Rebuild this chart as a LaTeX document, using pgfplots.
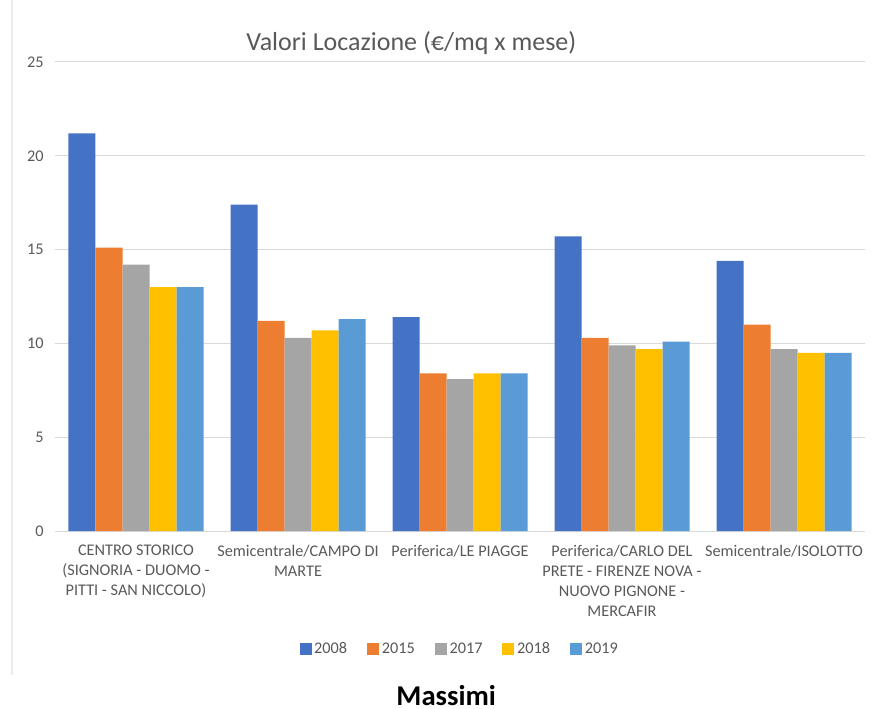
\documentclass[border=0pt]{standalone}
\usepackage{fontspec}
\setmainfont{Carlito}
\usepackage{pgfplots}
\pgfplotsset{compat=1.18}
\definecolor{c08}{HTML}{4472C4}
\definecolor{c15}{HTML}{ED7D31}
\definecolor{c17}{HTML}{A5A5A5}
\definecolor{c18}{HTML}{FFC000}
\definecolor{c19}{HTML}{5B9BD5}
\definecolor{txt}{HTML}{595959}
\definecolor{gridc}{HTML}{D9D9D9}
\definecolor{edge}{HTML}{EBEBEB}
\begin{document}
\begin{tikzpicture}
\useasboundingbox (-41.25pt,-133.5pt) rectangle (613.5pt,398.25pt);
% faint left edge of the chart area
\draw[edge, line width=1.2pt] (-32.25pt,398.25pt) -- (-32.25pt,-108pt);
\begin{axis}[
  at={(0,0)}, anchor=south west,
  scale only axis, width=607.5pt, height=351.75pt,
  clip=false,
  ybar=0pt, bar width=20.25pt,
  xmin=-0.5, xmax=4.5, ymin=0, ymax=25,
  ytick={0,5,10,15,20,25},
  xtick={0,1,2,3,4},
  xticklabels={{CENTRO STORICO\\(SIGNORIA - DUOMO -\\PITTI - SAN NICCOLO)},
    {Semicentrale/CAMPO DI\\MARTE},
    {Periferica/LE PIAGGE},
    {Periferica/CARLO DEL\\PRETE - FIRENZE NOVA -\\NUOVO PIGNONE -\\MERCAFIR},
    {Semicentrale/ISOLOTTO}},
  ymajorgrids, grid style={draw=gridc, line width=0.75pt},
  axis line style={draw=none}, major tick length=0pt,
  /pgf/number format/assume math mode=true,
  ticklabel style={font=\fontsize{12.2}{15}\selectfont, text=txt},
  xticklabel style={align=center, anchor=north, yshift=-7pt},
  yticklabel style={xshift=-5pt},
  title={Valori Locazione (€/mq x mese)},
  title style={at={(0.44,1)}, anchor=center, yshift=8pt, font=\fontsize{19.5}{23}\selectfont, text=txt},
  legend style={at={(0.5,-0.2515)}, anchor=center, draw=none, font=\fontsize{12.2}{14}\selectfont, text=txt,
    /tikz/every even column/.append style={column sep=13pt}},
  legend columns=5,
  legend image code/.code={\fill[#1] (0pt,-4.5pt) rectangle (9pt,4.5pt);},
]
\addplot[fill=c08, draw=none] coordinates {(0,21.2) (1,17.4) (2,11.4) (3,15.7) (4,14.4)};
\addplot[fill=c15, draw=none] coordinates {(0,15.1) (1,11.2) (2,8.4) (3,10.3) (4,11.0)};
\addplot[fill=c17, draw=none] coordinates {(0,14.2) (1,10.3) (2,8.1) (3,9.9) (4,9.7)};
\addplot[fill=c18, draw=none] coordinates {(0,13.0) (1,10.7) (2,8.4) (3,9.7) (4,9.5)};
\addplot[fill=c19, draw=none] coordinates {(0,13.0) (1,11.3) (2,8.4) (3,10.1) (4,9.5)};
\legend{2008,2015,2017,2018,2019}
\node[font=\fontsize{21.5}{24}\selectfont\bfseries, anchor=base, inner sep=0pt] at (axis description cs:0.483,-0.372) {Massimi};
\end{axis}
\end{tikzpicture}
\end{document}
